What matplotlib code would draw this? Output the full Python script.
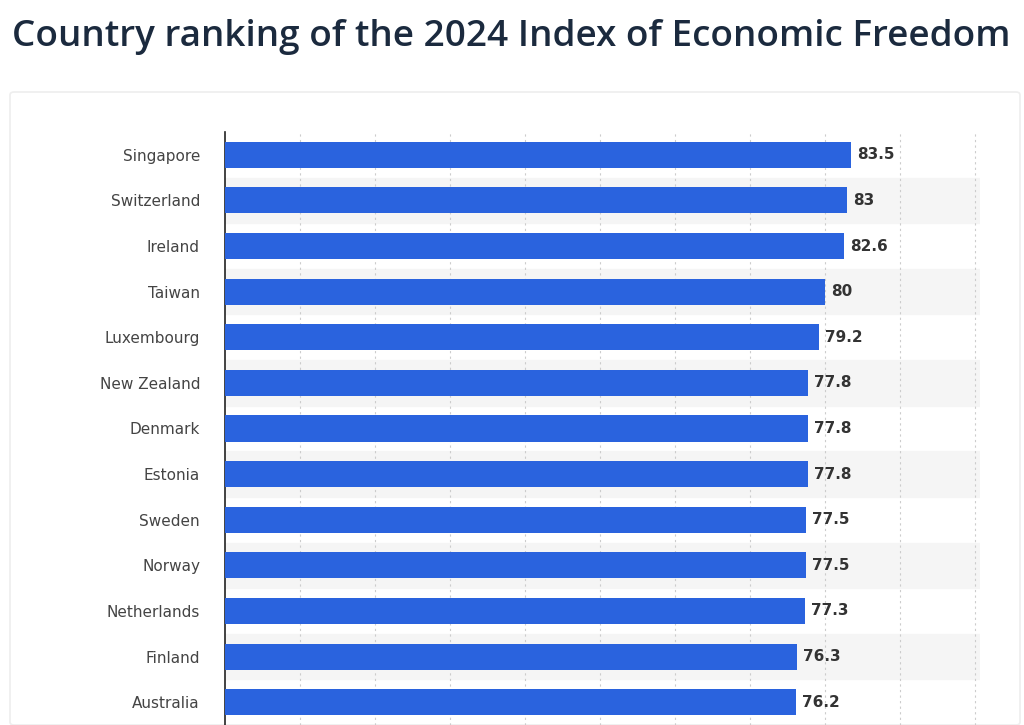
import matplotlib.pyplot as plt
from matplotlib.patches import FancyBboxPatch

countries = ["Singapore", "Switzerland", "Ireland", "Taiwan", "Luxembourg", "New Zealand",
             "Denmark", "Estonia", "Sweden", "Norway", "Netherlands", "Finland", "Australia"]
scores = [83.5, 83, 82.6, 80, 79.2, 77.8, 77.8, 77.8, 77.5, 77.5, 77.3, 76.3, 76.2]
labels = ["83.5", "83", "82.6", "80", "79.2", "77.8", "77.8", "77.8", "77.5", "77.5", "77.3", "76.3", "76.2"]

W, H = 1024, 725
fig = plt.figure(figsize=(W / 100, H / 100), dpi=100)
fig.patch.set_facecolor("white")

# card behind the chart
card = FancyBboxPatch((10 / W, 0), 1010 / W, (H - 92) / H, boxstyle="round,pad=0,rounding_size=0.004",
                      transform=fig.transFigure, facecolor="white", edgecolor="#eeeeee", lw=1.2, zorder=-5)
fig.patches.append(card)

fig.text(12 / W, 1 - 37 / H, "Country ranking of the 2024 Index of Economic Freedom",
         fontsize=26.6, color="#1b2a3e", fontweight="semibold", va="center", ha="left", family="Open Sans")

ax = fig.add_axes([225 / W, 0, 755 / W, (H - 132) / H], zorder=2)
n = len(countries)
y = list(range(n))
for i in y:
    if i % 2 == 1:
        ax.axhspan(i - 0.5, i + 0.5, color="#f5f5f5", zorder=0)
ax.barh(y, scores, height=0.57, color="#2a63de", zorder=3)
for yi, v, lab in zip(y, scores, labels):
    ax.text(v + 0.8, yi, lab, va="center", ha="left", fontsize=11, color="#333333",
            fontweight="bold", zorder=4)

ax.set_xlim(0, 100.7)
ax.set_ylim(n - 0.5, -0.5)
ax.set_yticks(y)
ax.set_yticklabels(countries, fontsize=11, color="#444444")
ax.tick_params(axis="y", length=0, pad=18)
ax.set_xticks(range(10, 101, 10))
ax.tick_params(axis="x", length=0, labelbottom=False)
ax.xaxis.grid(True, linestyle=(0, (2, 3)), color="#cccccc", lw=0.8, zorder=1)
ax.set_axisbelow(True)
for s in ["top", "right", "bottom"]:
    ax.spines[s].set_visible(False)
ax.spines["left"].set_color("#222222")
ax.spines["left"].set_linewidth(1.2)
ax.set_facecolor("none")

fig.savefig("out.png", dpi=100)
